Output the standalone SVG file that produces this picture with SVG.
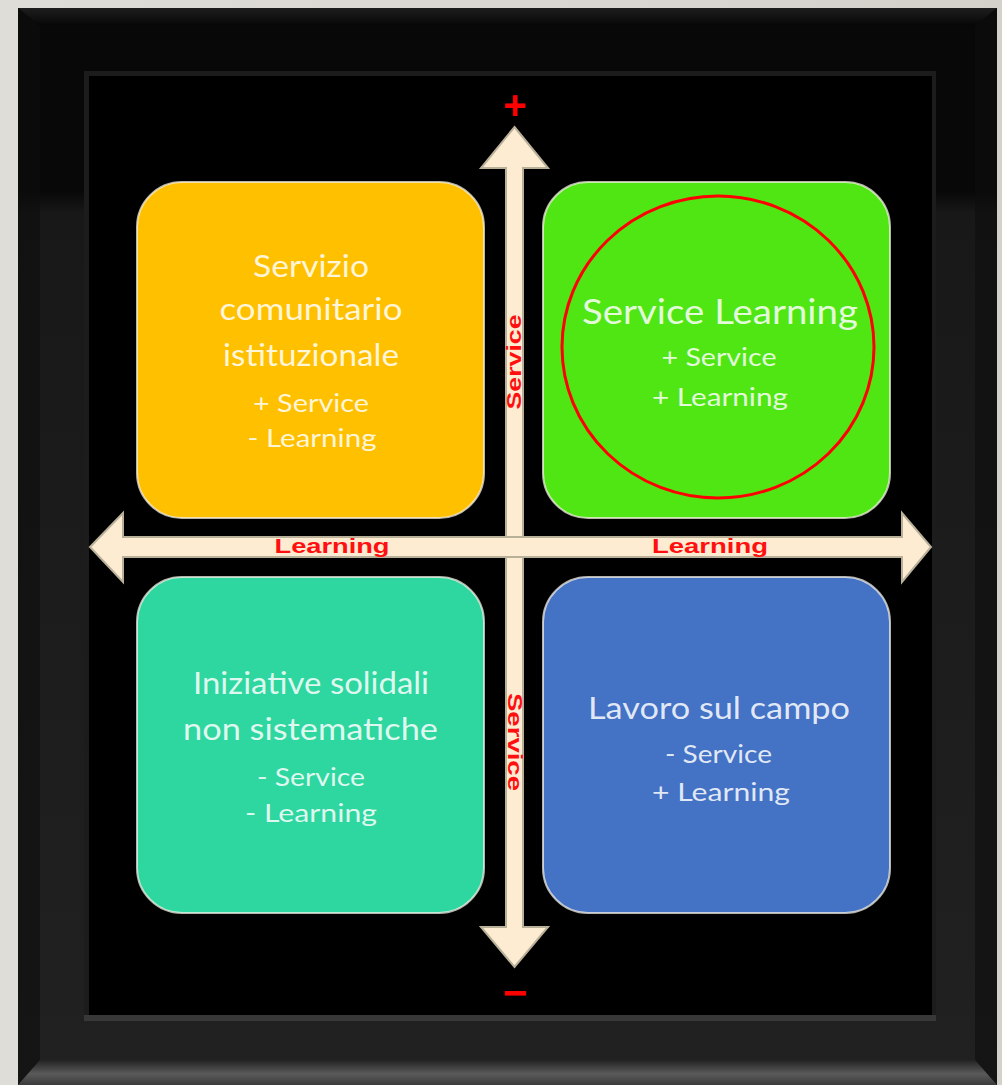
<svg xmlns="http://www.w3.org/2000/svg" width="1002" height="1085" viewBox="0 0 1002 1085">
  <defs>
    <linearGradient id="frameG" x1="0" y1="0" x2="0" y2="1">
      <stop offset="0" stop-color="#080808"/>
      <stop offset="0.17" stop-color="#080808"/>
      <stop offset="0.19" stop-color="#181818"/>
      <stop offset="1" stop-color="#212121"/>
    </linearGradient>
    <linearGradient id="topBevel" x1="0" y1="0" x2="0" y2="1">
      <stop offset="0" stop-color="#1e1e1e"/>
      <stop offset="1" stop-color="#060606"/>
    </linearGradient>
    <linearGradient id="botBevel" x1="0" y1="0" x2="0" y2="1">
      <stop offset="0" stop-color="#222"/>
      <stop offset="0.55" stop-color="#5a5a5a"/>
      <stop offset="1" stop-color="#3a3a3a"/>
    </linearGradient>
    <linearGradient id="bgG" x1="0" y1="0" x2="1" y2="0">
      <stop offset="0" stop-color="#dfddd8"/>
      <stop offset="1" stop-color="#d4d1cb"/>
    </linearGradient>
  </defs>
  <style>
    .box { stroke: #f4f0e6; stroke-opacity: 0.75; stroke-width: 2; }
    .t { font-family: Lato, "Open Sans", "Liberation Sans", sans-serif; fill: #ffffff; fill-opacity: 0.85; text-anchor: middle; }
    .big { font-size: 30px; }
    .sml { font-size: 25px; }
    .axis { font-family: "Liberation Sans", Arial, sans-serif; font-weight: bold; fill: #ff1010; font-size: 20px; text-anchor: middle; }
    .sign { font-family: "Liberation Sans", Arial, sans-serif; font-weight: bold; fill: #ff0000; text-anchor: middle; }
    .arrow { fill: #fdebd2; stroke: #b9b09a; stroke-width: 2; stroke-linejoin: miter; }
  </style>

  <!-- background and frame -->
  <rect x="0" y="0" width="1002" height="1085" fill="url(#bgG)"/>
  <rect x="18" y="8" width="979" height="1077" fill="url(#frameG)"/>
  <polygon points="18,8 997,8 975,26 40,26" fill="url(#topBevel)"/>
  <polygon points="18,8 40,26 40,1060 18,1085" fill="#0e0e0e" opacity="0.6"/>
  <polygon points="997,8 975,26 975,1060 997,1085" fill="#0e0e0e" opacity="0.6"/>
  <polygon points="40,1060 975,1060 997,1085 18,1085" fill="url(#botBevel)"/>
  <rect x="84" y="71" width="852" height="950" fill="#1c1c1c"/>
  <rect x="84" y="1015" width="852" height="6" fill="#383838"/>
  <rect x="89" y="76" width="843" height="939" fill="#000000"/>

  <!-- connectors (axis arrows) -->
  <g id="connectors">
    <polygon class="arrow" points="514.5,127 548,168 523,168 523,927 548,927 514.5,967 481,927 506,927 506,168 481,168"/>
    <polygon class="arrow" points="90,547 123,513 123,537 902,537 902,513 931,547 902,582 902,557 123,557 123,582"/>
    <rect x="507" y="538" width="15" height="18" fill="#fdebd2"/>
    <text class="axis" x="332" y="553" textLength="115" lengthAdjust="spacingAndGlyphs">Learning</text>
    <text class="axis" x="710" y="553" textLength="116" lengthAdjust="spacingAndGlyphs">Learning</text>
    <text class="axis" transform="translate(521,362) rotate(-90)" x="0" y="0" textLength="95" lengthAdjust="spacingAndGlyphs">Service</text>
    <text class="axis" transform="translate(508,742) rotate(90)" x="0" y="0" textLength="98" lengthAdjust="spacingAndGlyphs">Service</text>
    <text class="sign" x="515" y="119" font-size="40">+</text>
    <text class="sign" x="515" y="1007" font-size="42">−</text>
  </g>

  <!-- top-left node -->
  <g id="node-servizio">
    <rect class="box" x="137" y="182" width="347" height="336" rx="45" ry="45" fill="#ffc000"/>
    <text class="t big" x="311" y="277" textLength="116" lengthAdjust="spacingAndGlyphs">Servizio</text>
    <text class="t big" x="311" y="320" textLength="183" lengthAdjust="spacingAndGlyphs">comunitario</text>
    <text class="t big" x="311" y="366" textLength="176" lengthAdjust="spacingAndGlyphs">istituzionale</text>
    <text class="t sml" x="311" y="412" textLength="116" lengthAdjust="spacingAndGlyphs">+ Service</text>
    <text class="t sml" x="312" y="447" textLength="129" lengthAdjust="spacingAndGlyphs">- Learning</text>
  </g>

  <!-- top-right node -->
  <g id="node-service-learning">
    <rect class="box" x="543" y="182" width="347" height="336" rx="45" ry="45" fill="#50e614"/>
    <ellipse cx="718" cy="347" rx="156" ry="151" fill="none" stroke="#ff0000" stroke-width="3"/>
    <text class="t" x="720" y="324" font-size="35" textLength="276" lengthAdjust="spacingAndGlyphs">Service Learning</text>
    <text class="t sml" x="719" y="366" textLength="115" lengthAdjust="spacingAndGlyphs">+ Service</text>
    <text class="t sml" x="720" y="406" textLength="136" lengthAdjust="spacingAndGlyphs">+ Learning</text>
  </g>

  <!-- bottom-left node -->
  <g id="node-iniziative">
    <rect class="box" x="137" y="577" width="347" height="336" rx="45" ry="45" fill="#2ed6a0"/>
    <text class="t big" x="311" y="694" textLength="236" lengthAdjust="spacingAndGlyphs">Iniziative solidali</text>
    <text class="t big" x="310.5" y="740" textLength="255" lengthAdjust="spacingAndGlyphs">non sistematiche</text>
    <text class="t sml" x="311" y="786" textLength="108" lengthAdjust="spacingAndGlyphs">- Service</text>
    <text class="t sml" x="311" y="822" textLength="132" lengthAdjust="spacingAndGlyphs">- Learning</text>
  </g>

  <!-- bottom-right node -->
  <g id="node-lavoro">
    <rect class="box" x="543" y="577" width="347" height="336" rx="45" ry="45" fill="#4472c4"/>
    <text class="t big" x="719" y="719" textLength="262" lengthAdjust="spacingAndGlyphs">Lavoro sul campo</text>
    <text class="t sml" x="718.5" y="763" textLength="107" lengthAdjust="spacingAndGlyphs">- Service</text>
    <text class="t sml" x="721" y="801" textLength="138" lengthAdjust="spacingAndGlyphs">+ Learning</text>
  </g>
</svg>
